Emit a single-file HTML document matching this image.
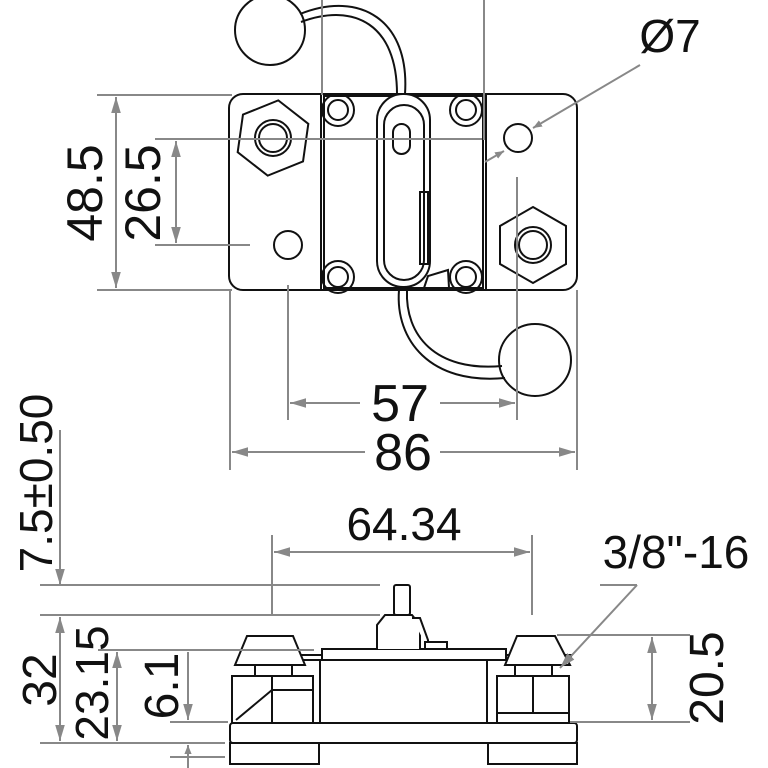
<!DOCTYPE html>
<html><head><meta charset="utf-8"><style>html,body{margin:0;padding:0;background:#fff}svg{display:block}</style></head>
<body>
<svg width="768" height="768" viewBox="0 0 768 768" xmlns="http://www.w3.org/2000/svg">
<defs>
<marker id="a" viewBox="0 0 10 10" refX="10" refY="5" markerWidth="9" markerHeight="9" orient="auto-start-reverse" markerUnits="userSpaceOnUse"><path d="M0,1 L10,5 L0,9 z" fill="#888"/></marker>
<marker id="b" viewBox="0 0 10 10" refX="10" refY="5" markerWidth="16" markerHeight="16" orient="auto-start-reverse" markerUnits="userSpaceOnUse"><path d="M0,2 L10,5 L0,8 z" fill="#888"/></marker>
</defs>
<!-- top view part -->
<g stroke="#111" stroke-width="2" fill="none">
<circle cx="270" cy="30" r="35" fill="#fff"/>
<path d="M300,14 C360,-10 410,20 405,94"/>
<path d="M301,22 C355,2 397,25 397,94"/>
<circle cx="535" cy="360" r="36" fill="#fff"/>
<path d="M399,290 C395,340 430,385 505,378"/>
<path d="M407,290 C405,335 435,372 502,366"/>
<rect x="229" y="94" width="348" height="196" rx="14" fill="#fff"/>
<polygon points="273,100 306,119 306,157 273,176 240,157 240,119" transform="rotate(8 273 138)"/>
<circle cx="273" cy="138" r="18"/><circle cx="273" cy="138" r="14"/>
<polygon points="533,207 566,226 566,264 533,283 500,264 500,226"/>
<circle cx="533" cy="245" r="18"/><circle cx="533" cy="245" r="14"/>
<circle cx="518" cy="138" r="14"/>
<circle cx="288" cy="245" r="14"/>
<rect x="321" y="94" width="165" height="196"/>
<rect x="324" y="96" width="159" height="192"/>
<circle cx="338" cy="110" r="16"/><circle cx="338" cy="110" r="10"/>
<circle cx="466" cy="110" r="16"/><circle cx="466" cy="110" r="10"/>
<circle cx="338" cy="277" r="16"/><circle cx="338" cy="277" r="10"/>
<circle cx="466" cy="277" r="16"/><circle cx="466" cy="277" r="10"/>
<rect x="377" y="94" width="53" height="193" rx="26" fill="#fff"/>
<rect x="384" y="105" width="40" height="175" rx="20"/>
<rect x="393" y="124" width="17" height="30" rx="8.5"/>
<rect x="420" y="192" width="8" height="72"/>
<path d="M424,288 L428,276 L448,270 L449,288 z"/>
</g>
<!-- bottom view part -->
<g stroke="#111" stroke-width="2" fill="#fff">
<rect x="230" y="743" width="89" height="21"/>
<rect x="488" y="743" width="89" height="21"/>
<rect x="230" y="723" width="347" height="20" rx="3"/>
<rect x="320" y="660" width="167" height="63"/>
<rect x="294" y="655" width="277" height="5"/>
<rect x="322" y="649" width="184" height="11"/>
<rect x="394" y="585" width="16" height="30" rx="2"/>
<path d="M377,649 L377,625 L385,615 L412,615 L420,625 L420,649"/>
<path d="M412,618 L420,618 L428,640 L428,649"/>
<rect x="425" y="642" width="22" height="7"/>
<rect x="232" y="676" width="81" height="47"/>
<path d="M236,720 L272,690 L312,690"/>
<rect x="255" y="637" width="37" height="39"/>
<path d="M235,665 L247,636 L293,636 L305,665 z"/>
<line x1="272" y1="676" x2="272" y2="723"/>
<rect x="497" y="676" width="72" height="37"/>
<line x1="533" y1="676" x2="533" y2="713"/>
<rect x="497" y="713" width="72" height="10"/>
<rect x="515" y="660" width="37" height="16"/>
<path d="M505,665 L517,636 L555,636 L570,665 z"/>
</g>
<g stroke="#888" stroke-width="2" fill="none">
<line x1="322" y1="0" x2="322" y2="95"/>
<line x1="484" y1="0" x2="484" y2="140"/>
<line x1="97" y1="95" x2="232" y2="95"/>
<line x1="97" y1="290" x2="232" y2="290"/>
<line x1="155" y1="139" x2="482" y2="139"/>
<line x1="155" y1="245" x2="250" y2="245"/>
<line x1="116" y1="97" x2="116" y2="288" marker-start="url(#b)" marker-end="url(#b)"/>
<line x1="176" y1="141" x2="176" y2="243" marker-start="url(#b)" marker-end="url(#b)"/>
<line x1="288" y1="285" x2="288" y2="420"/>
<line x1="517" y1="177" x2="517" y2="420"/>
<line x1="230" y1="290" x2="230" y2="470"/>
<line x1="577" y1="290" x2="577" y2="470"/>
<line x1="290" y1="403" x2="360" y2="403" marker-start="url(#b)"/>
<line x1="440" y1="403" x2="515" y2="403" marker-end="url(#b)"/>
<line x1="232" y1="452" x2="365" y2="452" marker-start="url(#b)"/>
<line x1="440" y1="452" x2="575" y2="452" marker-end="url(#b)"/>
<line x1="640" y1="65" x2="533" y2="128" marker-end="url(#a)"/>
<line x1="485" y1="162" x2="504" y2="151" marker-end="url(#a)"/>
<line x1="272" y1="535" x2="272" y2="615"/>
<line x1="532" y1="535" x2="532" y2="615"/>
<line x1="274" y1="552" x2="530" y2="552" marker-start="url(#b)" marker-end="url(#b)"/>
<line x1="40" y1="585" x2="380" y2="585"/>
<line x1="40" y1="615" x2="380" y2="615"/>
<line x1="98" y1="650" x2="314" y2="650"/>
<line x1="40" y1="743" x2="225" y2="743"/>
<line x1="170" y1="722" x2="228" y2="722"/>
<line x1="170" y1="757" x2="225" y2="757"/>
<line x1="60" y1="430" x2="60" y2="585" marker-end="url(#b)"/>
<line x1="60" y1="617" x2="60" y2="741" marker-start="url(#b)" marker-end="url(#b)"/>
<line x1="117" y1="652" x2="117" y2="741" marker-start="url(#b)" marker-end="url(#b)"/>
<line x1="188" y1="652" x2="188" y2="720" marker-end="url(#b)"/>
<line x1="188" y1="768" x2="188" y2="745" marker-end="url(#a)"/>
<line x1="557" y1="635" x2="690" y2="635"/>
<line x1="570" y1="722" x2="690" y2="722"/>
<line x1="652" y1="637" x2="652" y2="720" marker-start="url(#b)" marker-end="url(#b)"/>
<line x1="637" y1="585" x2="560" y2="668" marker-end="url(#b)"/>
<line x1="637" y1="585" x2="600" y2="585"/>
</g>
<g font-family="'Liberation Sans', sans-serif" fill="#111" text-anchor="middle">
<text x="400" y="421" font-size="52">57</text>
<text x="403" y="470" font-size="52">86</text>
<text x="670" y="52" font-size="46">Ø7</text>
<text x="404" y="540" font-size="46">64.34</text>
<text x="676" y="568" font-size="46">3/8"-16</text>
<text transform="translate(102,193) rotate(-90)" font-size="50">48.5</text>
<text transform="translate(160,193) rotate(-90)" font-size="50">26.5</text>
<text transform="translate(52,483) rotate(-90)" font-size="46">7.5±0.50</text>
<text transform="translate(56,680) rotate(-90)" font-size="48">32</text>
<text transform="translate(108,683) rotate(-90)" font-size="46">23.15</text>
<text transform="translate(178,686) rotate(-90)" font-size="48">6.1</text>
<text transform="translate(723,678) rotate(-90)" font-size="48">20.5</text>
</g>
</svg>
</body></html>
